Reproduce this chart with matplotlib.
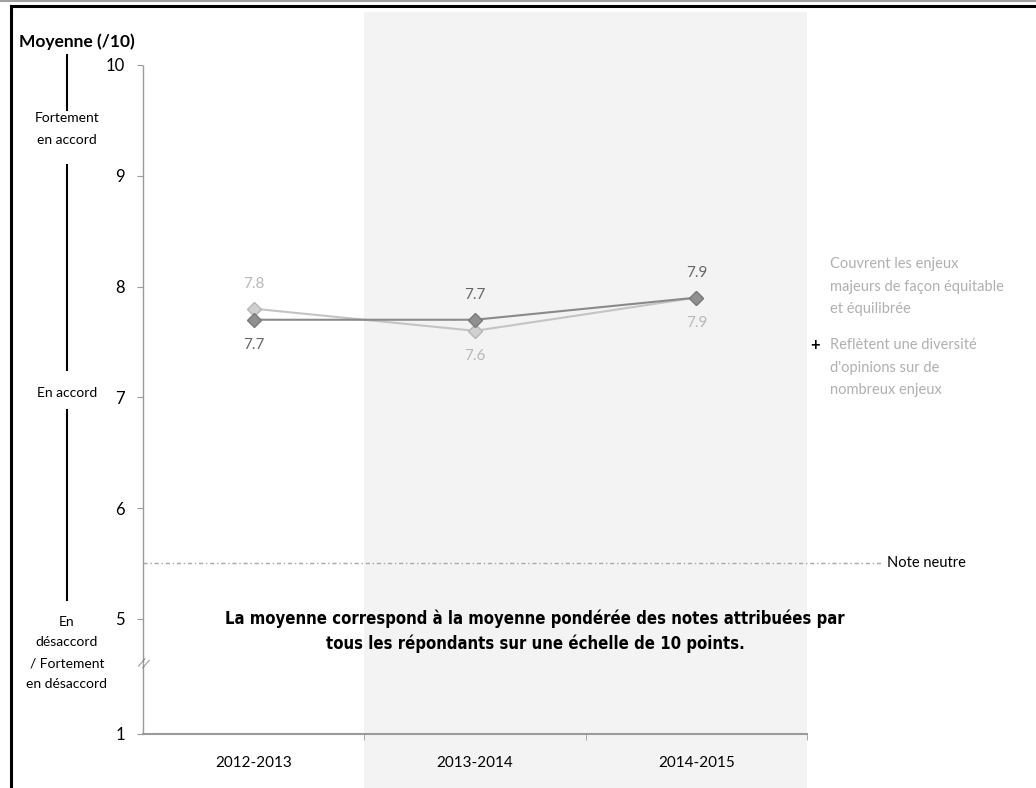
import matplotlib
matplotlib.use("Agg")
import matplotlib.pyplot as plt
import matplotlib.transforms as mtransforms
from matplotlib.lines import Line2D
from matplotlib import font_manager

# ---------------- data ----------------
categories = ["2012-2013", "2013-2014", "2014-2015"]
series_a_name = "Couvrent les enjeux\nmajeurs de façon équitable\net équilibrée"
series_b_name = "Reflètent une diversité\nd'opinions sur de\nnombreux enjeux"
series_a = [7.8, 7.6, 7.9]   # light grey
series_b = [7.7, 7.7, 7.9]   # dark grey
label_pos_a = ["above", "below", "below"]
label_pos_b = ["below", "above", "above"]
tick_values = [1, 5, 6, 7, 8, 9, 10]
neutral_value = 5.5
neutral_label = "Note neutre"
note_text = ("La moyenne correspond à la moyenne pondérée des notes attribuées par\n"
             "tous les répondants sur une échelle de 10 points.")
left_labels = ["Fortement\nen accord", "En accord", "En\ndésaccord\n/ Fortement\nen désaccord"]

# broken axis: values below 5 are compressed
def ypos(v):
    return v if v >= 5 else 5 - (5 - v) * (1.04 / 4)

BASE = ["Lato", "DejaVu Sans"]
plt.rcParams["font.family"] = BASE

# find a condensed bold font if available
cond_fp = None
for f in font_manager.fontManager.ttflist:
    if f.name in ("DejaVu Sans Condensed", "Liberation Sans Narrow", "Roboto Condensed") or \
       (f.name == "DejaVu Sans" and "Condensed" in f.fname):
        if "Bold" in f.fname and "Oblique" not in f.fname and "Italic" not in f.fname:
            cond_fp = font_manager.FontProperties(fname=f.fname)
            break

W, H = 1036, 788
fig = plt.figure(figsize=(W / 100, H / 100), dpi=100)
fig.patch.set_facecolor("white")

x0, x1 = 143, 807
y_top, y_bot = 65, 734
ax = fig.add_axes([x0 / W, 1 - y_bot / H, (x1 - x0) / W, (y_bot - y_top) / H])
ax.set_facecolor("none")
ax.set_xlim(-0.5, 2.5)
ax.set_ylim(ypos(1), 10)

# shaded band (spans whole figure height)
fig_h_ax = (y_bot - y_top)
ax.axvspan(0.5, 2.5, ymin=-(H - y_bot) / fig_h_ax, ymax=(y_bot - 12) / fig_h_ax,
           color="#f3f3f3", zorder=0, clip_on=False, lw=0)

# spines
for s in ["top", "right"]:
    ax.spines[s].set_visible(False)
ax.spines["left"].set_color("#9a9a9a")
ax.spines["left"].set_linestyle((0, (1, 1)))
ax.spines["left"].set_linewidth(1)
ax.spines["bottom"].set_color("#9a9a9a")
ax.spines["bottom"].set_linewidth(1.5)

ax.set_yticks([ypos(v) for v in tick_values])
ax.set_yticklabels([str(v) for v in tick_values], fontsize=12)
ax.tick_params(axis="y", length=4, color="#9a9a9a", pad=9)
ax.set_xticks(range(len(categories)))
ax.set_xticklabels(categories, fontsize=11)
ax.tick_params(axis="x", length=0, pad=16)
ax.set_xticks([0.5, 1.5, 2.5], minor=True)
ax.tick_params(axis="x", which="minor", length=4, color="#9a9a9a")

# neutral line
blend = mtransforms.blended_transform_factory(ax.transAxes, ax.transData)
xr = (882 - x0) / (x1 - x0)
ax.plot([0, xr], [neutral_value, neutral_value], transform=blend, color="#a8a8a8",
        lw=1, linestyle=(0, (3, 2, 1, 2)), clip_on=False, zorder=1)
ax.text(xr + 0.008, neutral_value, neutral_label, transform=blend, fontsize=10.5,
        va="center", ha="left", color="black")

# axis break mark
ax.text(0, ypos(3.45), "//", transform=blend, fontsize=9, color="#808080",
        ha="center", va="center", rotation=-20, clip_on=False)

# series
xs = list(range(len(categories)))
ax.plot(xs, series_a, color="#c4c4c4", lw=1.5, marker="D", ms=7,
        mfc="#d0d0d0", mec="#b5b5b5", zorder=3)
ax.plot(xs, series_b, color="#8a8a8a", lw=1.5, marker="D", ms=7,
        mfc="#909090", mec="#7a7a7a", zorder=4)

for x, v, p in zip(xs, series_a, label_pos_a):
    off = 18 if p == "above" else -18
    ax.annotate(f"{v:.1f}", (x, v), xytext=(0, off), textcoords="offset points",
                ha="center", va="center", fontsize=11, color="#b8b8b8")
for x, v, p in zip(xs, series_b, label_pos_b):
    off = 18 if p == "above" else -18
    ax.annotate(f"{v:.1f}", (x, v), xytext=(0, off), textcoords="offset points",
                ha="center", va="center", fontsize=11, color="#666666")

# legend-like text on the right
fig.text(830 / W, 1 - 257 / H, series_a_name, fontsize=10.5, color="#b0b0b0",
         ha="left", va="top", linespacing=1.78)
fig.text(815 / W, 1 - 345 / H, "+", fontsize=12, color="black", ha="center",
         va="center", fontweight="bold")
fig.text(830 / W, 1 - 338 / H, series_b_name, fontsize=10.5, color="#b0b0b0",
         ha="left", va="top", linespacing=1.78)

# centred note
if cond_fp is not None:
    cond_fp.set_size(12)
    fig.text(535 / W, 1 - 631 / H, note_text, fontproperties=cond_fp,
             ha="center", va="center", linespacing=1.45)
else:
    fig.text(535 / W, 1 - 631 / H, note_text, fontsize=11.5, fontweight="bold",
             family=["DejaVu Sans"], fontstretch="condensed",
             ha="center", va="center", linespacing=1.45)

# left side annotations
fig.text(77 / W, 1 - 42 / H, "Moyenne (/10)", fontsize=12.5, fontweight="bold",
         ha="center", va="center")
fig.text(67 / W, 1 - 129 / H, left_labels[0], fontsize=10, ha="center",
         va="center", linespacing=1.9)
fig.text(67 / W, 1 - 393 / H, left_labels[1], fontsize=10, ha="center", va="center")
fig.text(67 / W, 1 - 653 / H, left_labels[2], fontsize=10, ha="center",
         va="center", linespacing=1.9)
for ya, yb in [(55, 110), (165, 370), (410, 600)]:
    fig.add_artist(Line2D([67 / W, 67 / W], [1 - ya / H, 1 - yb / H],
                          color="black", lw=1.5))

# frame
fig.add_artist(Line2D([0, 1], [1 - 0.8 / H, 1 - 0.8 / H], color="#a0a0a0", lw=1.5))
fig.add_artist(Line2D([11 / W, 1], [1 - 6 / H, 1 - 6 / H], color="black", lw=2.2))
fig.add_artist(Line2D([11 / W, 11 / W], [1 - 6 / H, 0], color="black", lw=2.2))

fig.savefig("out.png", dpi=100)
